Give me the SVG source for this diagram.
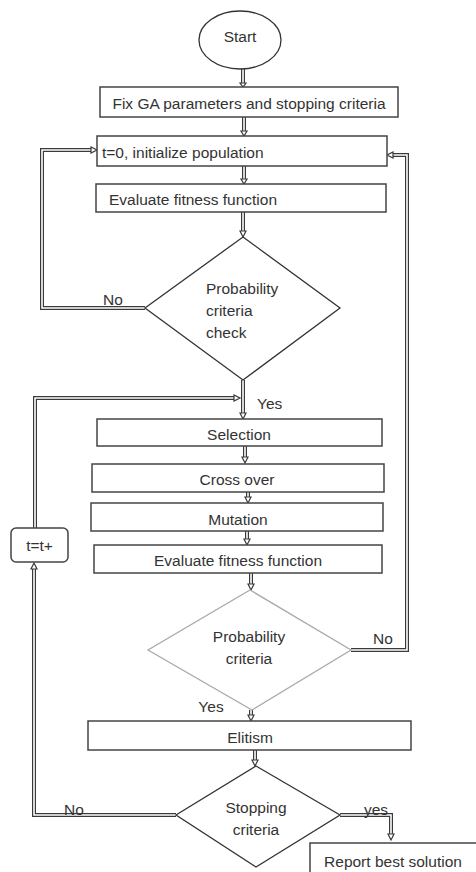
<svg xmlns="http://www.w3.org/2000/svg" xmlns:xlink="http://www.w3.org/1999/xlink" width="476" height="872" viewBox="0 0 476 872">
<style>
  text { font-family: "Liberation Sans", Arial, sans-serif; font-size: 15.5px; fill: #333; }
  .mid { text-anchor: middle; }
  .box { fill: #fff; stroke: #444; stroke-width: 1.5; }
  .dia { fill: #fff; stroke: #333; stroke-width: 1.3; }
  .dia2 { fill: #fff; stroke: #aaa; stroke-width: 1.3; }
  .o { fill: none; stroke: #3a3a3a; stroke-width: 4; }
  .i { fill: none; stroke: #fff; stroke-width: 1.6; }
  .hd { fill: #fff; stroke: #3a3a3a; stroke-width: 1.2; }
</style>
<defs>
  <path id="p1" d="M243,69 V83"/>
  <path id="p2" d="M244,117 V131"/>
  <path id="p3" d="M244,166 V179"/>
  <path id="p4" d="M243,212 V231"/>
  <path id="p5" d="M145,308 H42 V150 H91"/>
  <path id="p6" d="M243,380 V413"/>
  <path id="p7" d="M35,528 V398 H234"/>
  <path id="p8" d="M245,446 V457"/>
  <path id="p9" d="M248,492 V497"/>
  <path id="p10" d="M247,531 V539"/>
  <path id="p11" d="M251,573 V584"/>
  <path id="p12" d="M351,650 H407 V155 H393"/>
  <path id="p13" d="M251,710 V715"/>
  <path id="p14" d="M255,750 V760"/>
  <path id="p15" d="M176,815 H34 V569"/>
  <path id="p16" d="M340,815 H391 V834"/>
</defs>

<g id="connectors">
  <use xlink:href="#p1" class="o"/><use xlink:href="#p1" class="i"/>
  <use xlink:href="#p2" class="o"/><use xlink:href="#p2" class="i"/>
  <use xlink:href="#p3" class="o"/><use xlink:href="#p3" class="i"/>
  <use xlink:href="#p4" class="o"/><use xlink:href="#p4" class="i"/>
  <use xlink:href="#p5" class="o"/><use xlink:href="#p5" class="i"/>
  <use xlink:href="#p6" class="o"/><use xlink:href="#p6" class="i"/>
  <use xlink:href="#p7" class="o"/><use xlink:href="#p7" class="i"/>
  <use xlink:href="#p8" class="o"/><use xlink:href="#p8" class="i"/>
  <use xlink:href="#p9" class="o"/><use xlink:href="#p9" class="i"/>
  <use xlink:href="#p10" class="o"/><use xlink:href="#p10" class="i"/>
  <use xlink:href="#p11" class="o"/><use xlink:href="#p11" class="i"/>
  <use xlink:href="#p12" class="o"/><use xlink:href="#p12" class="i"/>
  <use xlink:href="#p13" class="o"/><use xlink:href="#p13" class="i"/>
  <use xlink:href="#p14" class="o"/><use xlink:href="#p14" class="i"/>
  <use xlink:href="#p15" class="o"/><use xlink:href="#p15" class="i"/>
  <use xlink:href="#p16" class="o"/><use xlink:href="#p16" class="i"/>
  <!-- arrowheads -->
  <polygon class="hd" points="240,83 246,83 243,87"/>
  <polygon class="hd" points="241,131 247,131 244,136"/>
  <polygon class="hd" points="241,179 247,179 244,184"/>
  <polygon class="hd" points="240,231 246,231 243,237"/>
  <polygon class="hd" points="91,147 91,153 97,150"/>
  <polygon class="hd" points="240,413 246,413 243,419"/>
  <polygon class="hd" points="234,395 234,401 240,398"/>
  <polygon class="hd" points="242,457 248,457 245,463"/>
  <polygon class="hd" points="245,497 251,497 248,503"/>
  <polygon class="hd" points="244,539 250,539 247,545"/>
  <polygon class="hd" points="248,584 254,584 251,590"/>
  <polygon class="hd" points="393,152 393,158 387,155"/>
  <polygon class="hd" points="248,715 254,715 251,721"/>
  <polygon class="hd" points="252,760 258,760 255,766"/>
  <polygon class="hd" points="31,569 37,569 34,563"/>
  <polygon class="hd" points="388,834 394,834 391,840"/>
</g>

<g id="start">
  <ellipse cx="240" cy="40" rx="41" ry="29" fill="#fff" stroke="#333" stroke-width="1.3"/>
  <text x="240" y="42" class="mid">Start</text>
</g>
<g id="fix">
  <rect class="box" x="100" y="87" width="298" height="30"/>
  <text x="249" y="109" class="mid">Fix GA parameters and stopping criteria</text>
</g>
<g id="init">
  <rect class="box" x="97" y="136" width="290" height="30"/>
  <text x="102" y="158">t=0, initialize population</text>
</g>
<g id="eval1">
  <rect class="box" x="96" y="184" width="290" height="28"/>
  <text x="109" y="205">Evaluate fitness function</text>
</g>
<g id="check1">
  <polygon class="dia" points="243,237 340,308 243,380 145,308"/>
  <text x="206" y="294">Probability</text>
  <text x="206" y="316">criteria</text>
  <text x="206" y="338">check</text>
  <text x="103" y="305">No</text>
  <text x="257" y="409">Yes</text>
</g>
<g id="selection">
  <rect class="box" x="97" y="419" width="285" height="27"/>
  <text x="239" y="440" class="mid">Selection</text>
</g>
<g id="crossover">
  <rect class="box" x="92" y="464" width="292" height="28"/>
  <text x="237" y="485" class="mid">Cross over</text>
</g>
<g id="mutation">
  <rect class="box" x="91" y="503" width="292" height="28"/>
  <text x="238" y="525" class="mid">Mutation</text>
</g>
<g id="eval2">
  <rect class="box" x="94" y="545" width="288" height="28"/>
  <text x="238" y="566" class="mid">Evaluate fitness function</text>
</g>
<g id="check2">
  <polygon class="dia2" points="250,590 351,650 252,710 148,650"/>
  <text x="249" y="642" class="mid">Probability</text>
  <text x="249" y="664" class="mid">criteria</text>
  <text x="383" y="644" class="mid">No</text>
  <text x="211" y="712" class="mid">Yes</text>
</g>
<g id="elitism">
  <rect class="box" x="88" y="721" width="323" height="29"/>
  <text x="250" y="743" class="mid">Elitism</text>
</g>
<g id="stopping">
  <polygon class="dia" points="256,766 340,815 256,867 176,815"/>
  <text x="256" y="813" class="mid">Stopping</text>
  <text x="256" y="835" class="mid">criteria</text>
  <text x="74" y="815" class="mid">No</text>
  <text x="376" y="815" class="mid">yes</text>
</g>
<g id="tinc">
  <rect class="box" x="11" y="528" width="57" height="34" rx="5"/>
  <text x="39.5" y="551" class="mid">t=t+</text>
</g>
<g id="report">
  <rect class="box" x="310" y="843" width="172" height="40"/>
  <text x="393" y="867" class="mid">Report best solution</text>
</g>
</svg>
